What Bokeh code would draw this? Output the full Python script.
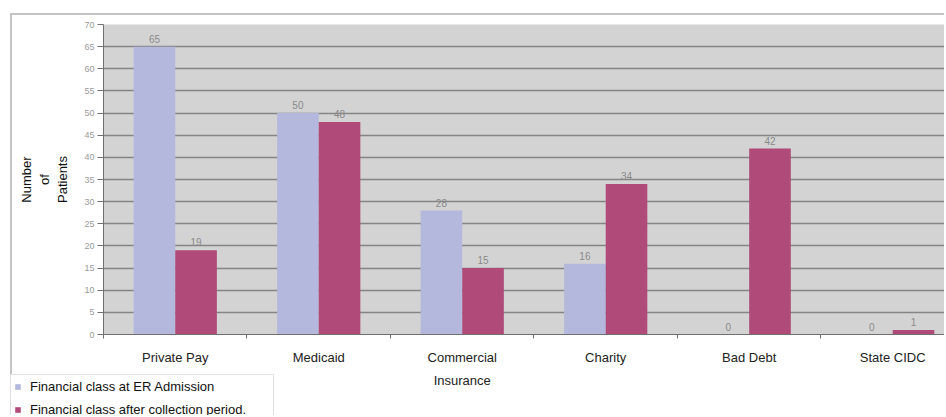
from bokeh.plotting import figure
from bokeh.layouts import column
from bokeh.models import (ColumnDataSource, FixedTicker, LabelSet, Legend, LegendItem)
from bokeh.core.properties import value
from bokeh.embed import file_html
from bokeh.resources import INLINE

categories = ["Private Pay", "Medicaid", "Commercial\nInsurance", "Charity", "Bad Debt", "State CIDC"]
admission = [65, 50, 28, 16, 0, 0]
after_collection = [19, 48, 15, 34, 42, 1]
y_ticks = list(range(0, 75, 5))

series_names = ["Financial class at ER Admission", "Financial class after collection period."]
colors = ["#b4b8dc", "#b04a78"]

centers = [i + 0.5 for i in range(len(categories))]
bar_w = 0.29
src_a = ColumnDataSource(dict(x=[c - bar_w / 2 for c in centers], top=admission,
                              lbl=[str(v) for v in admission]))
src_b = ColumnDataSource(dict(x=[c + bar_w / 2 for c in centers], top=after_collection,
                              lbl=[str(v) for v in after_collection]))

FONT = "Liberation Sans"
p = figure(width=934, height=402, output_backend="svg", toolbar_location=None,
           x_range=(0, 5.875), y_range=(0, 70),
           min_border_left=91, min_border_right=0, min_border_top=9, min_border_bottom=83)
p.frame_align = False
p.margin = (13, 0, 0, 10)
p.styles = {"border-left": "2px solid #c4c4c4", "border-top": "2px solid #c4c4c4"}
p.background_fill_color = "#d3d3d3"
p.border_fill_color = "white"
p.outline_line_color = None

ra = p.vbar(x="x", top="top", width=bar_w, source=src_a, fill_color=colors[0], line_color=None)
rb = p.vbar(x="x", top="top", width=bar_w, source=src_b, fill_color=colors[1], line_color=None)

for src in (src_a, src_b):
    p.add_layout(LabelSet(x="x", y="top", text="lbl", source=src, y_offset=4,
                          text_align="center", text_baseline="bottom",
                          text_font=value(FONT), text_font_size="10px", text_color="#8a8a8a"))

# x axis
p.xaxis.ticker = FixedTicker(ticks=centers, minor_ticks=list(range(0, 6)))
p.xaxis.major_label_overrides = {c: n for c, n in zip(centers, categories)}
p.xaxis.major_tick_line_color = None
p.xaxis.major_tick_out = 0
p.xaxis.major_tick_in = 0
p.xaxis.minor_tick_line_color = "#707070"
p.xaxis.minor_tick_out = 4
p.xaxis.minor_tick_in = 0
p.xaxis.axis_line_color = "#707070"
p.xaxis.major_label_text_font = FONT
p.xaxis.major_label_text_font_size = "13px"
p.xaxis.major_label_text_color = "#222222"
p.xaxis.major_label_text_line_height = 1.55
p.xaxis.major_label_standoff = 11
p.xgrid.grid_line_color = None

# y axis
p.yaxis.ticker = FixedTicker(ticks=y_ticks)
p.yaxis.major_label_text_font = FONT
p.yaxis.major_label_text_font_size = "9px"
p.yaxis.major_label_text_color = "#9a9a9a"
p.yaxis.major_tick_out = 6
p.yaxis.major_tick_in = 0
p.yaxis.major_tick_line_color = "#707070"
p.yaxis.minor_tick_line_color = None
p.yaxis.axis_line_color = "#707070"
p.yaxis.major_label_standoff = 3
p.yaxis.axis_label = "Number\nof\nPatients"
p.yaxis.axis_label_text_font = FONT
p.yaxis.axis_label_text_font_size = "13px"
p.yaxis.axis_label_text_font_style = "normal"
p.yaxis.axis_label_text_color = "#111111"
p.yaxis.axis_label_standoff = 11
p.ygrid.grid_line_color = "#858585"
p.ygrid.grid_line_width = 1.5

# legend, in a small figure laid over the chart's bottom-left corner
lg = figure(width=266, height=41, output_backend="svg", toolbar_location=None,
            x_range=(0, 1), y_range=(0, 1), min_border=0,
            min_border_left=0, min_border_right=0, min_border_top=0, min_border_bottom=0)
lg.frame_align = False
lg.margin = (-41, 0, 0, 10)
lg.axis.visible = False
lg.grid.grid_line_color = None
lg.outline_line_color = None
lg.background_fill_color = "white"
lg.border_fill_color = "white"
# swatches only: their data lies outside this small figure's view
la = lg.vbar(x=[-10], top=[1], width=0.1, fill_color=colors[0], line_color=None)
lb = lg.vbar(x=[-10], top=[1], width=0.1, fill_color=colors[1], line_color=None)
legend = Legend(items=[LegendItem(label=series_names[0], renderers=[la]),
                       LegendItem(label=series_names[1], renderers=[lb])],
                location="top_left", orientation="vertical")
legend.label_text_font = FONT
legend.label_text_font_size = "13px"
legend.label_text_color = "#111111"
legend.glyph_width = 7
legend.glyph_height = 7
legend.label_standoff = 9
legend.label_width = 240
legend.spacing = 7
legend.padding = 3
legend.margin = 0
legend.label_height = 16
legend.border_line_color = "#c4c4c4"
legend.border_line_width = 1.5
legend.background_fill_color = "white"
lg.add_layout(legend, "center")

layout = column(p, lg, spacing=0)
open("out.html", "w").write(file_html(layout, INLINE))
